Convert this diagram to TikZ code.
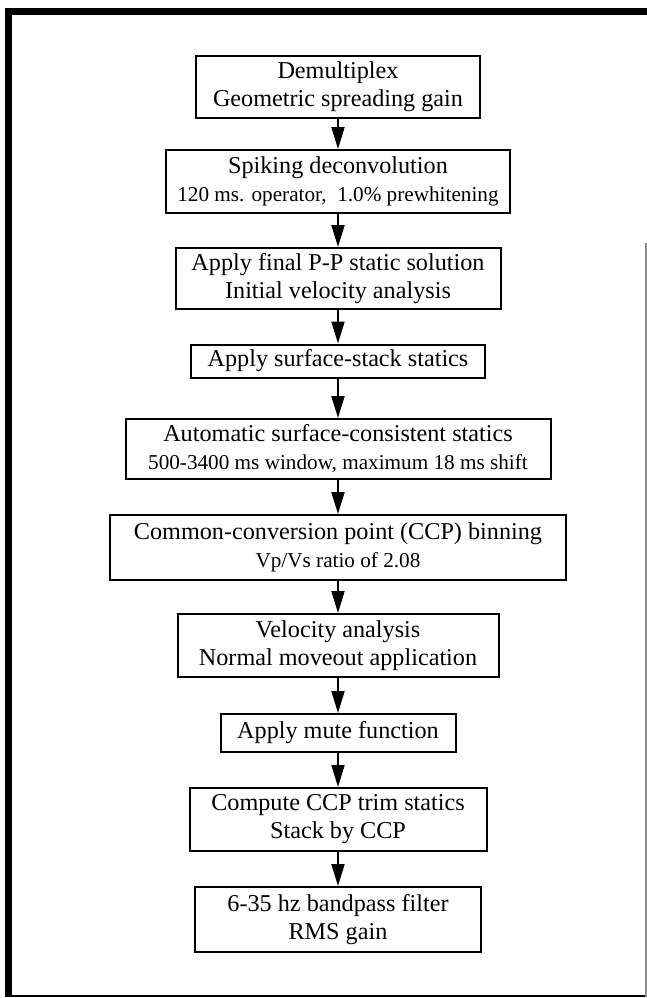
\documentclass[tikz,border=0pt]{standalone}
\usepackage{fontspec}
\setmainfont{Liberation Serif}
\usetikzlibrary{arrows.meta}
\newcommand{\sml}{\fontsize{10.6}{14}\selectfont}
\begin{document}
\begin{tikzpicture}[x=0.5pt,y=-0.5pt,
  stepbox/.style={draw=black,line width=1pt,fill=white,align=center,inner sep=0pt,
    font=\fontsize{12.1}{14}\selectfont},
  flowarrow/.style={line width=1pt,-{Triangle[length=11pt,width=6.5pt]},shorten >=0pt}]
\useasboundingbox (0,0) rectangle (647,998);
\fill[white] (0,0) rectangle (647,998);
% frame
\fill[black] (5,8) rectangle (12,997);
\fill[black] (5,8) rectangle (647,15);
\draw[line width=1pt] (5,996) -- (647,996);
\draw[line width=0.6pt,black!45] (646,243) -- (646,997);
% boxes
\node[stepbox,minimum width=142pt,minimum height=31pt] (b1) at (338,87)
  {Demultiplex\\Geometric spreading gain};
\node[stepbox,minimum width=172pt,minimum height=31.5pt] (b2) at (338,181.5)
  {Spiking deconvolution\\{\sml 120 ms. operator,\ \ 1.0\% prewhitening}};
\node[stepbox,minimum width=162.5pt,minimum height=30.5pt] (b3) at (338,278.5)
  {Apply final P-P static solution\\Initial velocity analysis};
\node[stepbox,minimum width=147pt,minimum height=16.5pt] (b4) at (338,361)
  {Apply surface-stack statics};
\node[stepbox,minimum width=212.5pt,minimum height=30pt] (b5) at (338,449)
  {Automatic surface-consistent statics\\{\sml 500-3400 ms window, maximum 18 ms shift}};
\node[stepbox,minimum width=228pt,minimum height=32.5pt] (b6) at (338,547.5)
  {Common-conversion point (CCP) binning\\{\sml Vp/Vs ratio of 2.08}};
\node[stepbox,minimum width=160.5pt,minimum height=31.5pt] (b7) at (338,645.5)
  {Velocity analysis\\Normal moveout application};
\node[stepbox,minimum width=117.5pt,minimum height=19pt] (b8) at (338,733)
  {Apply mute function};
\node[stepbox,minimum width=148.5pt,minimum height=31.5pt] (b9) at (338,819.5)
  {Compute CCP trim statics\\Stack by CCP};
\node[stepbox,minimum width=143pt,minimum height=32.5pt] (b10) at (338,919.5)
  {6-35 hz bandpass filter\\RMS gain};
% connectors
\foreach \a/\b in {b1/b2,b2/b3,b3/b4,b4/b5,b5/b6,b6/b7,b7/b8,b8/b9,b9/b10}
  \draw[flowarrow] (\a.south) -- (\b.north);
\end{tikzpicture}
\end{document}
